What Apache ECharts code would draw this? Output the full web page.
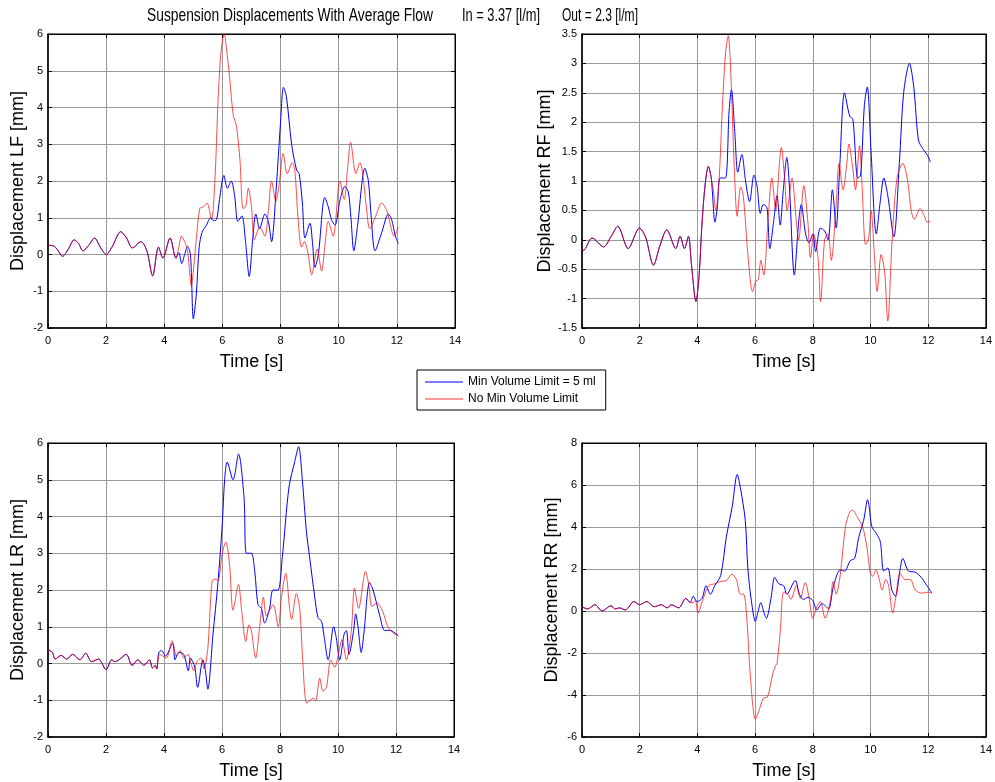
<!DOCTYPE html>
<html>
<head>
<meta charset="utf-8">
<title>Suspension Displacements</title>
<script src="https://cdn.jsdelivr.net/npm/echarts@6/dist/echarts.min.js"></script>
<style>
  html, body { margin: 0; padding: 0; background: #fff; }
  #chart { width: 995px; height: 782px; }
</style>
</head>
<body>
<div id="chart"></div>
<script>
// ---- tick labels / axis ranges ----
const timeTicks = [0, 2, 4, 6, 8, 10, 12, 14];
const seriesNames = ['Min Volume Limit = 5 ml', 'No Min Volume Limit'];
const panelNames = ['Displacement LF [mm]', 'Displacement RF [mm]', 'Displacement LR [mm]', 'Displacement RR [mm]'];

// ---- LF: shared start, then each configuration ----
const lfCommonT = [0, 0.2, 0.35, 0.5, 0.7, 0.9, 1.05, 1.2, 1.4, 1.6, 1.8, 2.0, 2.2, 2.5, 2.7, 2.9, 3.2, 3.4, 3.6, 3.8, 3.95, 4.2, 4.4];
const lfCommonV = [0.25, 0.23, 0.1, -0.05, 0.15, 0.4, 0.3, 0.1, 0.25, 0.45, 0.2, 0.0, 0.2, 0.62, 0.45, 0.18, 0.35, 0.1, -0.58, 0.2, -0.1, 0.45, -0.1];
const lfMinT = [4.5, 4.6, 4.7, 4.8, 4.9, 5.0, 5.1, 5.2, 5.3, 5.45, 5.6, 5.7, 5.8, 5.9, 6.05, 6.17, 6.3, 6.42, 6.53, 6.67, 6.8, 6.92, 7.05, 7.15, 7.28, 7.46, 7.58, 7.69, 7.85, 8.0, 8.1, 8.2, 8.38, 8.55, 8.64, 8.75, 8.84, 9.01, 9.1, 9.18, 9.3, 9.52, 9.64, 9.75, 9.87, 10.05, 10.21, 10.33, 10.42, 10.52, 10.65, 10.9, 11.02, 11.12, 11.25, 11.48, 11.71, 11.82, 11.95, 12.05];
const lfMinV = [0.05, -0.25, 0.0, 0.22, 0.0, -1.75, -1.1, 0.2, 0.6, 0.8, 1.0, 0.92, 0.95, 1.5, 2.15, 1.8, 2.0, 1.6, 0.9, 1.05, 0.3, -0.6, 0.5, 1.1, 0.7, 1.1, 0.9, 0.35, 1.8, 3.6, 4.55, 4.3, 3.0, 2.3, 2.2, 1.4, 0.45, 0.85, 0.3, -0.35, 0.0, 1.55, 1.3, 0.95, 0.8, 1.5, 1.85, 1.7, 1.0, 0.1, 0.8, 2.35, 2.0, 1.0, 0.1, 0.6, 1.1, 0.95, 0.5, 0.3];
const lfNoT = [4.5, 4.59, 4.7, 4.8, 4.93, 5.03, 5.1, 5.22, 5.35, 5.47, 5.62, 5.74, 5.85, 5.95, 6.06, 6.14, 6.25, 6.37, 6.48, 6.6, 6.71, 6.8, 6.89, 7.0, 7.1, 7.29, 7.46, 7.58, 7.69, 7.84, 7.95, 8.09, 8.23, 8.4, 8.49, 8.6, 8.72, 8.82, 8.95, 9.07, 9.26, 9.41, 9.52, 9.64, 9.81, 10.04, 10.19, 10.3, 10.41, 10.59, 10.73, 10.84, 10.95, 11.07, 11.25, 11.48, 11.65, 11.91, 12.05];
const lfNoV = [0.2, 0.5, 0.35, 0.1, -0.85, -0.2, 0.4, 1.25, 1.3, 1.4, 0.95, 2.0, 4.2, 5.5, 6.0, 5.6, 4.8, 3.8, 3.5, 2.6, 1.25, 1.3, 1.8, 1.3, 0.4, 0.75, 0.5, 1.2, 2.0, 1.45, 1.9, 2.75, 2.2, 2.5, 2.3, 1.0, 0.2, 0.35, 0.0, -0.55, 0.15, -0.45, 0.2, 0.9, 0.5, 2.0, 1.5, 2.3, 3.05, 2.2, 2.5, 2.1, 1.3, 0.7, 1.0, 1.4, 1.2, 0.5, 0.75];

// ---- RF ----
const rfCommonT = [0, 0.05, 0.35, 0.75, 1.0, 1.24, 1.6, 1.99, 2.2, 2.48, 2.7, 2.94, 3.25, 3.4, 3.55, 3.69, 3.79, 3.95, 4.06, 4.15, 4.26, 4.38, 4.48];
const rfCommonV = [-0.15, -0.18, 0.03, -0.12, 0.05, 0.23, -0.15, 0.2, 0.05, -0.43, -0.1, 0.17, -0.15, 0.06, -0.15, 0.06, -0.4, -1.05, -0.6, 0.2, 0.9, 1.25, 1.05];
const rfMinT = [4.61, 4.69, 4.79, 4.97, 5.1, 5.18, 5.3, 5.4, 5.54, 5.67, 5.81, 5.96, 6.07, 6.18, 6.28, 6.41, 6.51, 6.64, 6.76, 6.87, 6.97, 7.1, 7.19, 7.36, 7.51, 7.6, 7.75, 7.87, 8.0, 8.1, 8.26, 8.41, 8.53, 8.68, 8.81, 8.93, 9.1, 9.28, 9.39, 9.56, 9.66, 9.79, 9.89, 10.02, 10.2, 10.35, 10.46, 10.6, 10.81, 11.0, 11.15, 11.35, 11.5, 11.66, 11.81, 11.96, 12.08];
const rfMinV = [0.3, 0.55, 1.05, 1.05, 2.2, 2.55, 1.8, 1.15, 1.45, 1.0, 0.65, 1.1, 0.9, 0.45, 0.6, 0.55, -0.15, 0.3, 0.75, 0.25, 0.8, 1.4, 0.9, -0.6, 0.3, 0.6, 0.1, -0.05, 0.1, -0.2, 0.2, 0.15, 0.0, 0.85, 0.2, 1.2, 2.5, 2.1, 2.05, 1.05, 1.1, 2.3, 2.6, 1.5, 0.1, 0.7, 1.05, 0.75, 0.05, 1.3, 2.5, 3.0, 2.6, 1.7, 1.55, 1.45, 1.32];
const rfNoT = [4.55, 4.64, 4.75, 4.87, 4.98, 5.07, 5.16, 5.28, 5.38, 5.5, 5.59, 5.76, 5.91, 6.03, 6.11, 6.2, 6.3, 6.45, 6.58, 6.72, 6.77, 6.91, 7.03, 7.11, 7.28, 7.43, 7.51, 7.69, 7.83, 7.92, 8.03, 8.18, 8.27, 8.41, 8.53, 8.64, 8.81, 8.91, 9.05, 9.18, 9.25, 9.39, 9.48, 9.62, 9.71, 9.83, 9.93, 10.02, 10.14, 10.23, 10.37, 10.49, 10.6, 10.75, 10.92, 11.12, 11.29, 11.41, 11.52, 11.72, 11.87, 11.96, 12.08];
const rfNoV = [0.85, 0.5, 1.0, 2.3, 3.2, 3.47, 2.8, 1.2, 0.4, 0.9, 0.75, -0.3, -0.88, -0.7, -0.68, -0.35, -0.6, 0.35, 1.05, 0.5, 0.8, 1.57, 1.0, 0.5, 1.05, 0.3, 0.0, 0.92, 0.3, -0.3, 0.1, -0.3, -1.05, 0.0, 0.1, -0.35, 0.6, 1.3, 0.85, 1.3, 1.63, 1.2, 0.85, 1.6, 0.9, -0.08, 0.0, 0.5, -0.3, -0.88, -0.25, -0.55, -1.38, 0.0, 1.05, 1.3, 1.0, 0.5, 0.35, 0.53, 0.4, 0.3, 0.32];

// ---- LR ----
const lrCommonT = [0, 0.15, 0.25, 0.45, 0.65, 0.85, 1.1, 1.3, 1.5, 1.75, 1.85, 2.0, 2.2, 2.3, 2.45, 2.7, 2.9, 3.1, 3.3, 3.5, 3.6, 3.7, 3.75];
const lrCommonV = [0.38, 0.3, 0.12, 0.22, 0.12, 0.25, 0.1, 0.28, 0.05, 0.12, 0.02, -0.17, 0.1, 0.05, 0.1, 0.25, -0.05, 0.1, -0.05, 0.1, -0.12, -0.05, -0.15];
const lrMinT = [3.82, 3.92, 4.05, 4.3, 4.38, 4.51, 4.68, 4.84, 4.91, 5.06, 5.16, 5.34, 5.43, 5.51, 5.69, 5.86, 6.01, 6.09, 6.18, 6.38, 6.57, 6.76, 6.84, 7.01, 7.13, 7.24, 7.36, 7.47, 7.64, 7.76, 7.93, 8.08, 8.31, 8.51, 8.64, 8.77, 8.91, 9.02, 9.2, 9.31, 9.43, 9.51, 9.66, 9.85, 9.94, 10.06, 10.21, 10.29, 10.38, 10.54, 10.61, 10.69, 10.8, 10.89, 11.09, 11.21, 11.44, 11.61, 11.8, 11.93, 12.08];
const lrMinV = [0.3, 0.35, 0.2, 0.55, 0.1, 0.3, 0.25, -0.2, 0.15, -0.1, -0.65, 0.1, -0.2, -0.7, 0.8, 2.2, 3.8, 5.0, 5.48, 5.0, 5.7, 4.5, 3.0, 3.0, 2.5, 1.6, 1.5, 1.1, 1.5, 2.0, 2.0, 2.9, 4.8, 5.5, 5.9, 5.0, 3.6, 2.9, 1.8, 1.25, 1.15, 0.8, 0.1, 1.0, 0.7, 0.1, 0.8, 0.9, 0.25, 0.9, 1.35, 1.0, 0.3, 0.8, 2.2, 2.0, 1.3, 0.9, 0.9, 0.85, 0.75];
const lrNoT = [3.85, 4.08, 4.28, 4.43, 4.55, 4.69, 4.83, 4.93, 5.03, 5.14, 5.28, 5.38, 5.51, 5.66, 5.78, 5.86, 6.01, 6.13, 6.26, 6.38, 6.57, 6.67, 6.82, 6.93, 7.01, 7.16, 7.3, 7.43, 7.53, 7.76, 7.94, 8.05, 8.2, 8.33, 8.4, 8.56, 8.68, 8.79, 8.93, 9.14, 9.23, 9.37, 9.48, 9.6, 9.75, 9.89, 10.0, 10.14, 10.29, 10.46, 10.57, 10.71, 10.95, 11.07, 11.17, 11.34, 11.55, 11.72, 11.95, 12.08];
const lrNoV = [0.25, 0.15, 0.62, 0.2, 0.35, 0.15, 0.25, 0.0, -0.2, 0.05, 0.15, -0.15, 0.4, 2.25, 2.3, 2.25, 3.0, 3.3, 2.7, 1.45, 2.15, 1.5, 0.6, 1.05, 0.9, 0.15, 1.0, 1.8, 1.3, 1.6, 1.0, 1.8, 2.45, 1.5, 1.2, 1.9, 1.5, 0.0, -1.08, -0.95, -1.0, -0.4, -0.75, -0.65, 0.1, -0.1, 0.2, 0.65, 0.1, 0.9, 2.05, 1.5, 2.5, 2.1, 1.55, 1.65, 1.4, 1.0, 0.8, 0.78];

// ---- RR ----
const rrCommonT = [0, 0.2, 0.45, 0.7, 1.0, 1.15, 1.3, 1.5, 1.8, 2.0, 2.25, 2.5, 2.75, 2.95, 3.1, 3.35, 3.6, 3.75];
const rrCommonV = [0.2, 0.1, 0.3, 0.0, 0.25, 0.1, 0.15, 0.05, 0.45, 0.3, 0.45, 0.2, 0.3, 0.15, 0.3, 0.15, 0.6, 0.4];
const rrMinT = [3.85, 3.99, 4.16, 4.3, 4.45, 4.6, 4.81, 5.0, 5.21, 5.38, 5.5, 5.66, 5.75, 5.87, 6.01, 6.09, 6.2, 6.29, 6.39, 6.55, 6.68, 6.82, 6.99, 7.1, 7.39, 7.54, 7.68, 7.83, 8.0, 8.14, 8.32, 8.43, 8.55, 8.72, 8.95, 9.1, 9.3, 9.45, 9.59, 9.76, 9.9, 10.05, 10.2, 10.34, 10.46, 10.6, 10.74, 10.86, 11.03, 11.12, 11.32, 11.55, 11.76, 11.96, 12.13];
const rrMinV = [0.7, 0.45, 0.6, 1.2, 0.8, 1.2, 1.7, 3.5, 5.0, 6.5, 5.8, 4.3, 2.0, 0.5, -0.5, -0.1, 0.4, 0.0, -0.35, 0.6, 1.6, 1.3, 1.2, 0.8, 1.45, 0.8, 0.55, 0.65, 0.5, 0.05, 0.35, 0.25, 0.1, 1.2, 1.95, 1.9, 2.4, 2.5, 3.5, 4.3, 5.3, 4.0, 3.7, 3.3, 1.9, 2.05, 1.0, 0.7, 2.0, 2.5, 1.9, 1.85, 1.6, 1.2, 0.85];
const rrNoT = [3.85, 3.93, 4.02, 4.18, 4.39, 4.61, 4.79, 5.0, 5.2, 5.35, 5.49, 5.6, 5.72, 5.83, 6.01, 6.12, 6.29, 6.43, 6.61, 6.71, 6.76, 6.87, 6.99, 7.14, 7.24, 7.43, 7.57, 7.74, 7.85, 8.0, 8.14, 8.26, 8.43, 8.61, 8.7, 8.81, 8.95, 9.13, 9.28, 9.38, 9.53, 9.73, 9.88, 9.99, 10.08, 10.19, 10.32, 10.4, 10.53, 10.63, 10.77, 10.86, 11.03, 11.2, 11.38, 11.55, 11.78, 12.01, 12.13];
const rrNoV = [0.4, 0.5, -0.1, 0.5, 1.2, 1.3, 1.4, 1.45, 1.75, 1.5, 0.8, 0.8, -0.5, -3.0, -5.15, -4.8, -4.15, -4.1, -3.0, -2.6, -2.5, -1.0, 0.9, 0.8, 0.55, 1.2, 0.6, 1.35, 0.8, -0.35, 0.2, 0.45, -0.35, 0.5, 1.4, 0.8, 1.7, 4.0, 4.7, 4.8, 4.5, 4.0, 3.0, 1.85, 1.65, 1.95, 1.4, 1.0, 1.5, 1.2, -0.1, 0.5, 1.8, 1.5, 1.5, 1.0, 0.85, 0.9, 0.85];

// ---- y-axis ranges per panel ----
const yMin = [-2, -1.5, -2, -6];
const yMax = [6, 3.5, 6, 8];
const yStep = [1, 0.5, 1, 2];

// pair up time / value lists into [t, v] points
function pairs(ts, vs) { return ts.map((t, i) => [t, vs[i]]); }

const panels = [
  { common: [lfCommonT, lfCommonV], min: [lfMinT, lfMinV], no: [lfNoT, lfNoV] },
  { common: [rfCommonT, rfCommonV], min: [rfMinT, rfMinV], no: [rfNoT, rfNoV] },
  { common: [lrCommonT, lrCommonV], min: [lrMinT, lrMinV], no: [lrNoT, lrNoV] },
  { common: [rrCommonT, rrCommonV], min: [rrMinT, rrMinV], no: [rrNoT, rrNoV] }
];

// plot-box placement (pixels)
const boxes = [
  { left: 48,  top: 34,  width: 407, height: 294, nameGap: 21 },
  { left: 582, top: 34,  width: 405, height: 294, nameGap: 26 },
  { left: 48,  top: 443, width: 406, height: 294, nameGap: 21 },
  { left: 582, top: 443, width: 404, height: 294, nameGap: 21 }
];

const FONT = '"Liberation Sans", Arial, Helvetica, sans-serif';
const gridColor = '#9a9a9a';

const grid = [], xAxis = [], yAxis = [], series = [];
boxes.forEach((b, i) => {
  grid.push({ left: b.left, top: b.top, width: b.width, height: b.height,
    show: true, borderColor: '#000', borderWidth: 1, backgroundColor: '#fff' });

  const tickStyle = { show: true, inside: true, length: 4, lineStyle: { color: '#000', width: 1 } };

  // bottom time axis
  xAxis.push({
    gridIndex: i, type: 'value', min: timeTicks[0], max: timeTicks[timeTicks.length - 1], interval: 2,
    position: 'bottom',
    axisLine: { show: true, onZero: false, lineStyle: { color: '#000', width: 1.5 } },
    axisTick: tickStyle,
    axisLabel: { color: '#000', fontSize: 11, fontFamily: FONT, margin: 7 },
    splitLine: { show: true, lineStyle: { color: gridColor, width: 1 } },
    name: 'Time [s]', nameLocation: 'middle', nameGap: 25,
    nameTextStyle: { color: '#000', fontSize: 18, fontFamily: FONT }
  });
  // top mirror axis (ticks only)
  xAxis.push({
    gridIndex: i, type: 'value', min: 0, max: 14, interval: 2, position: 'top',
    axisLine: { show: true, onZero: false, lineStyle: { color: '#000', width: 1 } },
    axisTick: tickStyle, axisLabel: { show: false }, splitLine: { show: false }
  });
  // left displacement axis
  yAxis.push({
    gridIndex: i, type: 'value', min: yMin[i], max: yMax[i], interval: yStep[i],
    position: 'left',
    axisLine: { show: true, onZero: false, lineStyle: { color: '#000', width: 1.5 } },
    axisTick: tickStyle,
    axisLabel: { color: '#000', fontSize: 11, fontFamily: FONT, margin: 5 },
    splitLine: { show: true, lineStyle: { color: gridColor, width: 1 } },
    name: panelNames[i], nameLocation: 'middle', nameGap: b.nameGap,
    nameTextStyle: { color: '#000', fontSize: 18, fontFamily: FONT }
  });
  // right mirror axis (ticks only)
  yAxis.push({
    gridIndex: i, type: 'value', min: yMin[i], max: yMax[i], interval: yStep[i],
    position: 'right',
    axisLine: { show: true, onZero: false, lineStyle: { color: '#000', width: 1 } },
    axisTick: tickStyle, axisLabel: { show: false }, splitLine: { show: false }
  });

  const p = panels[i];
  const common = pairs(p.common[0], p.common[1]);
  series.push({
    name: seriesNames[0], type: 'line', xAxisIndex: 2 * i, yAxisIndex: 2 * i,
    data: common.concat(pairs(p.min[0], p.min[1])),
    showSymbol: false, symbol: 'none', smooth: 0.3,
    lineStyle: { color: '#0000ff', width: 1 }, itemStyle: { color: '#0000ff' }
  });
  series.push({
    name: seriesNames[1], type: 'line', xAxisIndex: 2 * i, yAxisIndex: 2 * i,
    data: common.concat(pairs(p.no[0], p.no[1])),
    showSymbol: false, symbol: 'none', smooth: 0.3,
    lineStyle: { color: '#ff0000', width: 1, opacity: 0.7 }, itemStyle: { color: '#ff3333' }
  });
});

// title pieces (condensed sans)
const titleParts = [
  { text: 'Suspension Displacements With Average Flow', x: 147, w: 286 },
  { text: 'In = 3.37 [l/m]', x: 462, w: 78 },
  { text: 'Out = 2.3 [l/m]', x: 562, w: 76 }
];

const chart = echarts.init(document.getElementById('chart'), null, { renderer: 'canvas' });

// horizontal squeeze for each title part so it spans its width
const measureCtx = document.createElement('canvas').getContext('2d');
measureCtx.font = '19px "Liberation Sans"';
const graphic = titleParts.map(tp => {
  const natural = measureCtx.measureText(tp.text).width;
  return {
    type: 'text', x: tp.x, y: 6, scaleX: tp.w / natural, silent: true,
    style: { text: tp.text, font: '19px "Liberation Sans", Arial, sans-serif', fill: '#000',
             textAlign: 'left', textVerticalAlign: 'top' }
  };
});

chart.setOption({
  animation: false,
  backgroundColor: '#fff',
  graphic: graphic,
  legend: {
    data: seriesNames,
    orient: 'vertical', left: 417, top: 370,
    icon: 'rect', itemWidth: 38, itemHeight: 1,
    backgroundColor: '#fff', borderColor: '#000', borderWidth: 1, borderRadius: 0,
    padding: [6, 10, 5, 8], itemGap: 5,
    textStyle: { color: '#000', fontSize: 12, fontFamily: FONT, padding: [0, 0, 0, 0] }
  },
  grid, xAxis, yAxis, series
});
</script>
</body>
</html>
